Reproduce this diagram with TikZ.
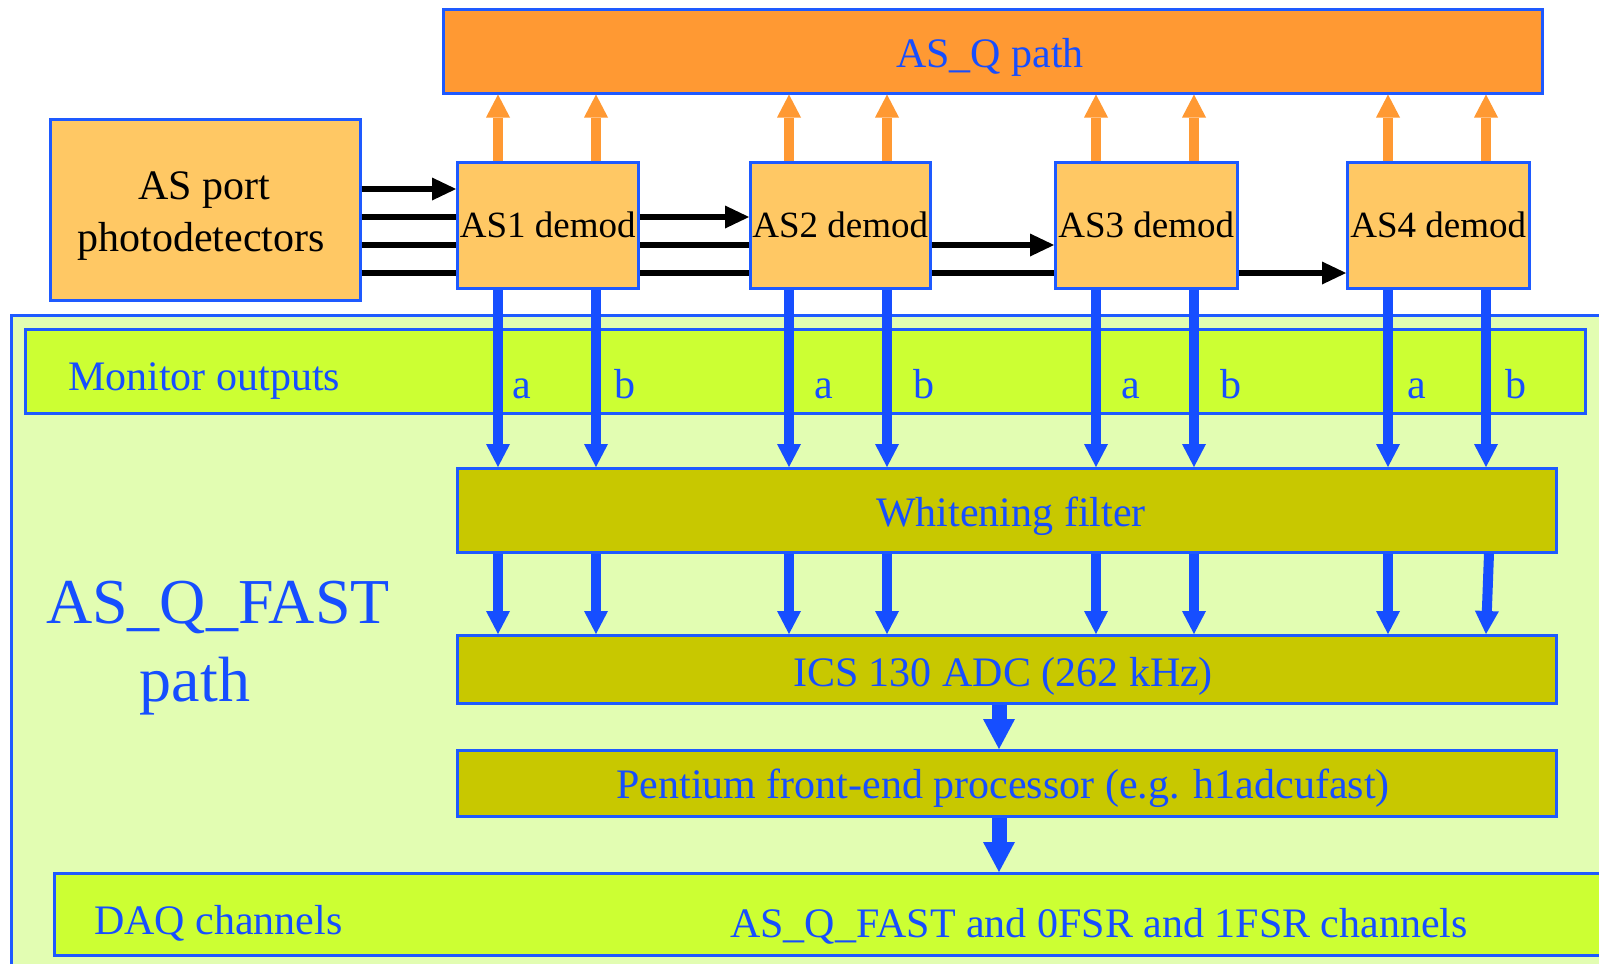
\documentclass[tikz,border=0pt]{standalone}
\usepackage{fontspec}
\setmainfont{Liberation Serif}
\usetikzlibrary{arrows.meta}
\definecolor{tblue}{RGB}{22,78,255}
\definecolor{bblue}{RGB}{30,90,255}
\definecolor{qorange}{RGB}{255,153,51}
\definecolor{lorange}{RGB}{255,200,100}
\definecolor{lgreen}{RGB}{226,253,178}
\definecolor{limegreen}{RGB}{204,255,51}
\definecolor{olivebox}{RGB}{200,200,0}
\tikzset{
  box/.style={draw=bblue, line width=2.5pt, inner sep=0pt, anchor=north west},
  demodbox/.style={box, fill=lorange, minimum height=126pt, font=\fontsize{37}{40}\selectfont},
  bigtxt/.style={text=tblue, inner sep=0pt, font=\fontsize{42}{50}\selectfont},
  blktxt/.style={text=black, inner sep=0pt, font=\fontsize{42}{50}\selectfont},
  orarrow/.style={draw=qorange, line width=10pt, -{Triangle[length=23pt,width=24pt,line width=0pt]}},
  bluarrow/.style={draw=tblue, line width=10pt, -{Triangle[length=23pt,width=24pt,line width=0pt]}},
  fatarrow/.style={draw=tblue, line width=15pt, -{Triangle[length=30pt,width=32pt,line width=0pt]}},
  blkline/.style={draw=black, line width=6.5pt},
  blkarrow/.style={blkline, -{Triangle[length=24pt,width=23pt,line width=0pt]}},
}
\begin{document}
\begin{tikzpicture}[x=1pt,y=-1pt]
\path[use as bounding box] (0,0) rectangle (1599,964);
\clip (0,0) rectangle (1599,964);
\fill[white] (0,0) rectangle (1599,964);

% panel and bars
\node[box, fill=lgreen, minimum width=1620pt, minimum height=680pt] (panel) at (10,314) {};
\node[box, fill=limegreen, minimum width=1560pt, minimum height=84pt] (monitor) at (24,328) {};
\node[box, fill=olivebox, minimum width=1099pt, minimum height=84pt] (whiten) at (456,467) {};
\node[box, fill=olivebox, minimum width=1099pt, minimum height=68pt] (adc) at (456,634) {};
\node[box, fill=olivebox, minimum width=1099pt, minimum height=66pt] (pent) at (456,749) {};
\node[box, fill=limegreen, minimum width=1600pt, minimum height=82pt] (daq) at (53,872) {};

% top
\node[box, fill=qorange, minimum width=1099pt, minimum height=84pt] (asq) at (442,8) {};
\node[box, fill=lorange, minimum width=310pt, minimum height=181pt] (asport) at (49,118) {};

% black lines (behind demod boxes)
\draw[blkarrow] (asport.east |- 0,189) -- (456,189);
\draw[blkline] (asport.east |- 0,217) -- (650,217);
\draw[blkline] (asport.east |- 0,245) -- (760,245);
\draw[blkline] (asport.east |- 0,273) -- (1060,273);

\node[demodbox, minimum width=181pt] (as1) at (456,161) {AS1 demod};
\node[demodbox, minimum width=180pt] (as2) at (749,161) {AS2 demod};
\node[demodbox, minimum width=182pt] (as3) at (1054,161) {AS3 demod};
\node[demodbox, minimum width=182pt] (as4) at (1346,161) {AS4 demod};

\draw[blkarrow] (as1.east |- 0,217) -- (as2.west |- 0,217);
\draw[blkarrow] (as2.east |- 0,245) -- (as3.west |- 0,245);
\draw[blkarrow] (as3.east |- 0,273) -- (as4.west |- 0,273);

% arrows per demod
\foreach \n/\xa/\xb in {as1/498/596, as2/789/887, as3/1096/1194, as4/1388/1486}{
  \draw[orarrow] (\xa,0 |- \n.north) -- (\xa,0 |- asq.south);
  \draw[orarrow] (\xb,0 |- \n.north) -- (\xb,0 |- asq.south);
  \draw[bluarrow] (\xa,0 |- \n.south) -- (\xa,0 |- whiten.north);
  \draw[bluarrow] (\xb,0 |- \n.south) -- (\xb,0 |- whiten.north);
  \draw[bluarrow] (\xa,0 |- whiten.south) -- (\xa,0 |- adc.north);
}
\draw[bluarrow] (596,0 |- whiten.south) -- (596,0 |- adc.north);
\draw[bluarrow] (887,0 |- whiten.south) -- (887,0 |- adc.north);
\draw[bluarrow] (1194,0 |- whiten.south) -- (1194,0 |- adc.north);
\draw[bluarrow] (1489,0 |- whiten.south) -- (1486,0 |- adc.north);

\draw[fatarrow] (999,0 |- adc.south) -- (999,0 |- pent.north);
\draw[fatarrow] (999,0 |- pent.south) -- (999,0 |- daq.north);

% labels a/b
\foreach \x/\t [count=\i] in {522/a, 625/b, 824/a, 924/b, 1131/a, 1231/b, 1417/a, 1516/b}{
  \node[bigtxt, anchor=base] (lab\i) at (\x,398) {\t};
}

% texts
\node[bigtxt, anchor=base] (asqtxt) at (990,67) {AS\_Q path};
\node[blktxt, anchor=base] (asporttxt1) at (204,199) {AS port};
\node[blktxt, anchor=base] (asporttxt2) at (201,251) {photodetectors};
\node[bigtxt, anchor=base west] (montxt) at (68,390) {Monitor outputs};
\node[bigtxt, anchor=base] (whitxt) at (1011,526) {Whitening filter};
\node[bigtxt, anchor=base] (adctxt) at (1003,686) {ICS 130 ADC (262 kHz)};
\node[bigtxt, anchor=base] (penttxt) at (1003,798) {Pentium front-end processor (e.g. h1adcufast)};
\node[bigtxt, anchor=base west] (daqtxt) at (94,934) {DAQ channels};
\node[bigtxt, anchor=base] (daqtxt2) at (1099,937) {AS\_Q\_FAST and 0FSR and 1FSR channels};
\node[text=tblue, inner sep=0pt, anchor=base, font=\fontsize{64}{70}\selectfont] (fast1) at (218,623) {AS\_Q\_FAST};
\node[text=tblue, inner sep=0pt, anchor=base, font=\fontsize{64}{70}\selectfont] (fast2) at (195,701) {path};
\end{tikzpicture}
\end{document}
